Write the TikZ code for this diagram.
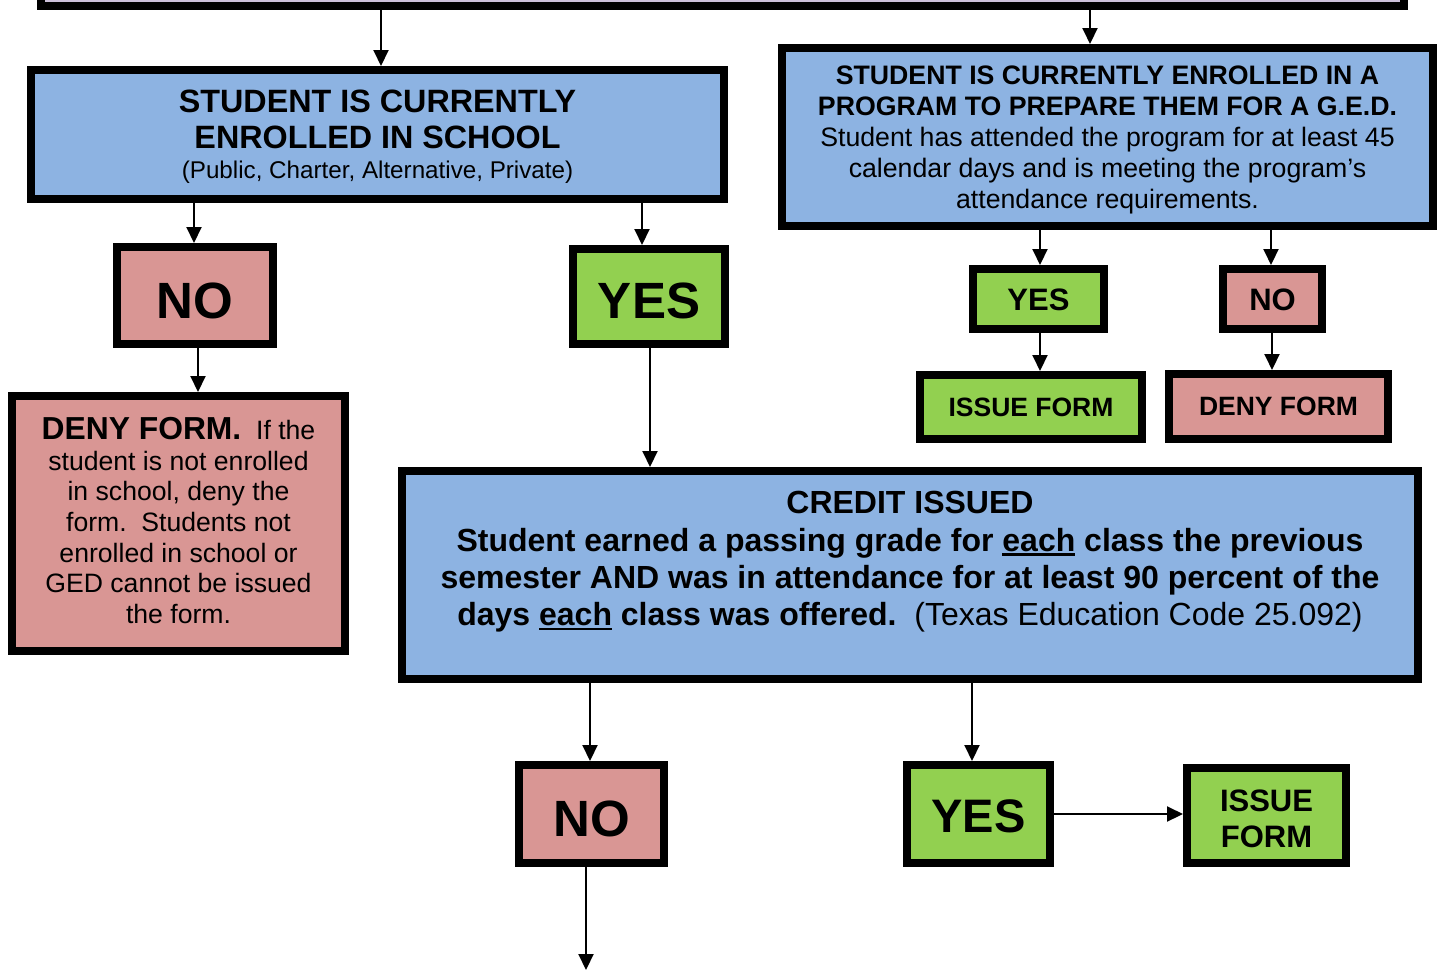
\documentclass[tikz,border=0pt]{standalone}
\usepackage{fontspec}
\setmainfont{Liberation Sans}
\usetikzlibrary{arrows.meta,calc}
\definecolor{bluebox}{HTML}{8DB3E2}
\definecolor{redbox}{HTML}{D99694}
\definecolor{greenbox}{HTML}{92D050}
\definecolor{lavbox}{HTML}{CCC0DA}
\newcommand\ulword[1]{\setbox0\hbox{#1}\rlap{\rule[-4.5pt]{\wd0}{2.4pt}}\box0\relax}
\begin{document}
\begin{tikzpicture}[x=1pt,y=-1pt,
  box/.style={draw=black,line width=8pt,inner sep=0pt},
  bluenode/.style={box,fill=bluebox},
  rednode/.style={box,fill=redbox},
  greennode/.style={box,fill=greenbox},
  lbl/.style={inner sep=0pt,align=center,text=black},
  bigword/.style={lbl,font=\fontsize{51}{58}\selectfont\bfseries},
  midword/.style={lbl,font=\fontsize{31}{36}\selectfont\bfseries},
  formword/.style={lbl,font=\fontsize{26.5}{31}\selectfont\bfseries},
  arr/.style={line width=2pt,-{Triangle[width=15pt,length=16pt]}}]
\useasboundingbox (0,0) rectangle (1442,970);

% top box (partly off the page)
\node[box,fill=lavbox,minimum width=1363pt,minimum height=40pt] (top) at (722.5,-14) {};

% boxes
\node[bluenode,minimum width=693pt,minimum height=129pt] (school) at (377.5,134.5) {};
\node[bluenode,minimum width=651pt,minimum height=178pt] (ged) at (1107.5,137) {};
\node[rednode,minimum width=156pt,minimum height=97pt] (no1) at (195,295.5) {};
\node[greennode,minimum width=152pt,minimum height=95pt] (yes1) at (649,296.5) {};
\node[greennode,minimum width=131pt,minimum height=60pt] (yes2) at (1038.5,299) {};
\node[rednode,minimum width=99pt,minimum height=60pt] (no2) at (1272.5,299) {};
\node[greennode,minimum width=222pt,minimum height=64pt] (issue2) at (1031,407) {};
\node[rednode,minimum width=219pt,minimum height=65pt] (deny2) at (1278.5,406.5) {};
\node[rednode,minimum width=333pt,minimum height=255pt] (deny1) at (178.5,523.5) {};
\node[bluenode,minimum width=1016pt,minimum height=208pt] (credit) at (910,575) {};
\node[rednode,minimum width=145pt,minimum height=98pt] (no3) at (591.5,814) {};
\node[greennode,minimum width=143pt,minimum height=98pt] (yes3) at (978.5,814) {};
\node[greennode,minimum width=159pt,minimum height=95pt] (issue3) at (1266.5,815.5) {};

% texts of the boxes
\node[lbl,font=\fontsize{32.3}{36}\selectfont\bfseries] (schoolT) at ($(school)+(0,2.5)$)
  {STUDENT IS CURRENTLY\\ENROLLED IN SCHOOL\\[-6pt]
   {\fontsize{24.2}{28}\selectfont\mdseries (Public, Charter, Alternative, Private)}};
\node[lbl,font=\fontsize{26.7}{31}\selectfont] (gedT) at ($(ged)+(0,3.2)$)
  {\textbf{STUDENT IS CURRENTLY ENROLLED IN A}\\
   \textbf{PROGRAM TO PREPARE THEM FOR A G.E.D.}\\
   Student has attended the program for at least 45\\
   calendar days and is meeting the program’s\\
   attendance requirements.};
\node[bigword] (no1T) at ($(no1)+(0,5)$) {NO};
\node[bigword] (yes1T) at ($(yes1)+(0,4)$) {YES};
\node[midword] (yes2T) at ($(yes2)+(0,1)$) {YES};
\node[midword] (no2T) at ($(no2)+(0,1)$) {NO};
\node[formword] (issue2T) at (issue2) {ISSUE FORM};
\node[formword] (deny2T) at (deny2) {DENY FORM};
\node[lbl,font=\fontsize{26.6}{30.6}\selectfont] (deny1T) at ($(deny1)+(0,-3)$)
  {{\fontsize{31.8}{36}\selectfont\bfseries DENY FORM.}\ \ If the\\
   student is not enrolled\\
   in school, deny the\\
   form.\ \ Students not\\
   enrolled in school or\\
   GED cannot be issued\\
   the form.};
\node[lbl,font=\fontsize{32}{37.4}\selectfont\bfseries] (creditT) at ($(credit)+(0,-13)$)
  {CREDIT ISSUED\\
   Student earned a passing grade for \ulword{each} class the previous\\
   semester AND was in attendance for at least 90 percent of the\\
   days \ulword{each} class was offered.\ \ {\mdseries(Texas Education Code 25.092)}};
\node[bigword] (no3T) at ($(no3)+(0,5)$) {NO};
\node[lbl,font=\fontsize{47}{54}\selectfont\bfseries] (yes3T) at ($(yes3)+(0,2)$) {YES};
\node[midword] (issue3T) at ($(issue3)+(0,3)$) {ISSUE\\FORM};

% x positions of connectors
\coordinate (xa) at (381,0);
\coordinate (xb) at (1090,0);
\coordinate (xc) at (194,0);
\coordinate (xd) at (642,0);
\coordinate (xe) at (198,0);
\coordinate (xf) at (650,0);
\coordinate (xg) at (1040,0);
\coordinate (xh) at (1271,0);
\coordinate (xi) at (1272,0);
\coordinate (xj) at (590,0);
\coordinate (xk) at (972,0);
\coordinate (endpt) at (586,970);

\draw[arr] (top.south -| xa) -- (school.north -| xa);
\draw[arr] (top.south -| xb) -- (ged.north -| xb);
\draw[arr] (school.south -| xc) -- (no1.north -| xc);
\draw[arr] (school.south -| xd) -- (yes1.north -| xd);
\draw[arr] (no1.south -| xe) -- (deny1.north -| xe);
\draw[arr] (yes1.south -| xf) -- (credit.north -| xf);
\draw[arr] (ged.south -| xg) -- (yes2.north -| xg);
\draw[arr] (ged.south -| xh) -- (no2.north -| xh);
\draw[arr] (yes2.south -| xg) -- (issue2.north -| xg);
\draw[arr] (no2.south -| xi) -- (deny2.north -| xi);
\draw[arr] (credit.south -| xj) -- (no3.north -| xj);
\draw[arr] (credit.south -| xk) -- (yes3.north -| xk);
\draw[arr] (yes3.east) -- (issue3.west |- yes3.east);
\draw[arr] (no3.south -| endpt) -- (endpt);
\end{tikzpicture}
\end{document}
